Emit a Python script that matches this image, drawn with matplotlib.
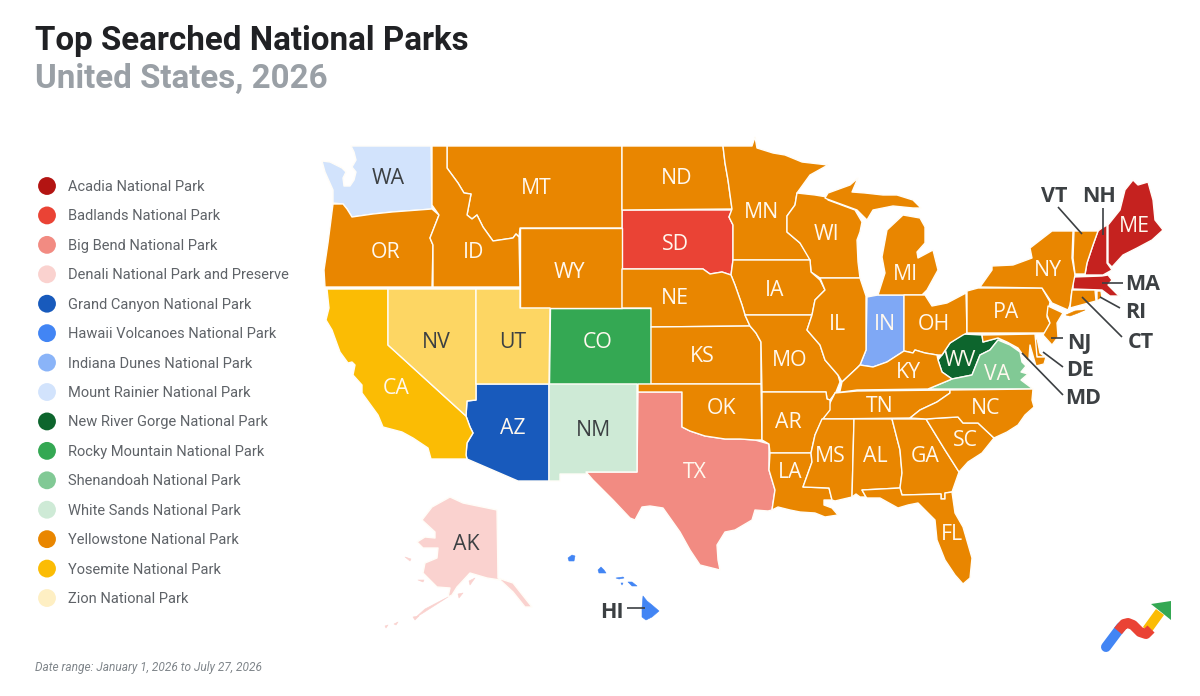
import matplotlib
matplotlib.use('Agg')
import matplotlib.pyplot as plt
from matplotlib.patches import Polygon

plt.rcParams['font.family'] = ['Roboto', 'Open Sans', 'DejaVu Sans']

# legend
parks = ['Acadia National Park', 'Badlands National Park', 'Big Bend National Park',
         'Denali National Park and Preserve', 'Grand Canyon National Park',
         'Hawaii Volcanoes National Park', 'Indiana Dunes National Park',
         'Mount Rainier National Park', 'New River Gorge National Park',
         'Rocky Mountain National Park', 'Shenandoah National Park',
         'White Sands National Park', 'Yellowstone National Park',
         'Yosemite National Park', 'Zion National Park']
legend_colors = ['#B31412', '#EA4335', '#F28B82', '#FAD2CF', '#185ABC', '#4285F4', '#8AB4F8',
                 '#D2E3FC', '#0D652D', '#34A853', '#81C995', '#CEEAD6', '#E98600', '#FBBC04', '#FEEFC3']
map_colors = ['#C5221F', '#EA4335', '#F28B82', '#FAD2CF', '#185ABC', '#4285F4', '#7FA8F5',
              '#D2E3FC', '#0D652D', '#34A853', '#81C995', '#CEEAD6', '#E98600', '#FBBC04', '#FDD663']

# which park each state searched for most
acadia = ['ME', 'NH', 'MA']
badlands = ['SD']
big_bend = ['TX']
denali = ['AK']
grand_canyon = ['AZ']
hawaii = ['HI']
indiana = ['IN']
rainier = ['WA']
new_river = ['WV']
rocky = ['CO']
shenandoah = ['VA']
white_sands = ['NM']
yellowstone = ['MT', 'OR', 'ID', 'WY', 'ND', 'MN', 'WI', 'MI', 'IA', 'NE', 'KS', 'OK', 'MO', 'IL', 'OH',
               'KY', 'TN', 'AR', 'LA', 'MS', 'AL', 'GA', 'SC', 'NC', 'FL', 'PA', 'NY', 'VT', 'CT', 'RI',
               'NJ', 'DE', 'MD']
yosemite = ['CA']
zion = ['NV', 'UT']
park_states = [acadia, badlands, big_bend, denali, grand_canyon, hawaii, indiana, rainier, new_river,
               rocky, shenandoah, white_sands, yellowstone, yosemite, zion]

# state outlines, in image pixels
WA = [(351,146),(431,146),(432,209),(392,212),(373,214),(352,217),(347,209),(343,204),(333,203),(333,190),
      (325,172),(322,161),(330,162),(342,168),(346,172),(343,178),(344,186),(350,186),(354,180),(356,172),
      (352,167),(356,160),(354,152)]
OR = [(333,204),(343,204),(347,209),(352,217),(373,214),(392,212),(432,209),(439,215),(430,238),(433,245),
      (432,287),(325,287),(324,270),(328,243)]
ID = [(432,146),(447,146),(447,168),(458,183),(464,193),(471,194),(467,215),(472,219),(477,215),(483,227),
      (493,241),(513,238),(516,234),(519,237),(520,287),(433,287),(433,245),(430,238),(439,215),(432,205)]
MT = [(447,146),(622,146),(622,228),(520,228),(519,237),(516,234),(513,238),(493,241),(483,227),(477,215),
      (472,219),(467,215),(471,194),(464,193),(458,183),(447,168)]
WY = [(520,228),(622,228),(622,308),(520,308)]
ND = [(622,146),(723,146),(725,163),(728,180),(732,209),(622,210)]
SD = [(622,210),(732,210),(729,217),(733,225),(733,260),(731,275),(722,272),(710,274),(703,269),(622,269)]
NE = [(622,269),(703,269),(710,274),(722,272),(731,275),(735,285),(742,305),(745,315),(750,326),(651,327),
      (651,308),(622,308)]
KS = [(651,327),(750,326),(756,333),(761,342),(761,384),(651,384)]
CO = [(550,308),(651,308),(651,384),(549,384)]
UT = [(476,289),(520,289),(520,308),(550,308),(549,384),(476,384)]
NV = [(388,289),(476,289),(476,400),(467,401),(466,416),(388,345)]
CA = [(327,289),(388,289),(388,345),(466,416),(470,427),(473,433),(467,443),(466,455),(467,459),(431,459),
      (428,448),(413,438),(402,432),(383,427),(378,415),(362,393),(362,385),(353,375),(355,365),(352,362),
      (348,363),(340,352),(332,330),(326,320),(329,308)]
AZ = [(476,384),(549,384),(549,481),(518,481),(467,459),(466,455),(467,443),(473,433),(470,427),(466,416),
      (467,401),(476,400)]
NM = [(549,384),(637,384),(637,472),(586,472),(587,474),(560,474),(560,481),(549,481)]
TX = [(638,392),(682,392),(682,427),(690,431),(705,436),(725,439),(740,439),(755,440),(769,444),(769,470),
      (775,490),(772,510),(768,511),(755,510),(752,520),(735,530),(725,532),(717,545),(718,560),(720,570),
      (700,565),(690,550),(680,532),(663,508),(650,506),(642,507),(635,520),(630,518),(613,500),(593,480),
      (586,472),(637,472)]
OK = [(638,384),(761,384),(762,440),(755,440),(740,439),(725,439),(705,436),(690,431),(682,427),(682,392),
      (638,392)]
MN = [(723,146),(752,146),(755,137),(757,148),(773,153),(785,155),(802,162),(828,165),(810,175),(797,193),
      (795,205),(787,216),(787,232),(800,243),(809,257),(810,260),(733,260),(733,225),(729,217),(732,209),
      (728,180),(725,163)]
IA = [(733,260),(810,260),(811,272),(820,280),(825,290),(815,300),(812,315),(745,315),(742,305),(735,285),
      (731,275)]
MO = [(745,315),(812,315),(807,330),(820,345),(825,360),(838,375),(840,382),(836,392),(830,400),(827,399),
      (826,392),(762,392),(761,342),(756,333),(750,326)]
AR = [(762,392),(826,392),(827,399),(830,400),(830,410),(822,420),(815,435),(811,453),(770,453),(769,444),
      (762,440)]
LA = [(770,453),(811,453),(812,462),(803,487),(829,488),(832,500),(824,500),(824,505),(832,508),(838,515),
      (825,517),(815,513),(800,512),(790,510),(778,507),(772,510),(775,490),(769,470)]
MS = [(822,419),(854,419),(852,497),(835,501),(832,500),(829,488),(803,487),(812,462),(811,453),(815,435)]
AL = [(854,419),(892,419),(900,450),(902,473),(900,488),(862,490),(866,497),(860,497),(856,494),(852,497)]
GA = [(892,419),(926,419),(945,450),(959,472),(952,492),(945,493),(945,499),(941,499),(941,494),(902,495),
      (900,488),(902,473),(900,450)]
FL = [(862,490),(900,488),(902,495),(941,494),(941,499),(945,499),(945,493),(952,492),(955,513),(963,527),
      (972,558),(970,578),(963,584),(955,575),(945,560),(937,540),(935,520),(918,503),(908,505),(898,508),
      (880,498),(867,498),(866,497)]
SC = [(926,419),(940,418),(958,417),(963,423),(978,423),(994,438),(982,453),(968,462),(959,472),(945,450)]
NC = [(910,418),(920,410),(937,402),(950,393),(950,390),(1033,389),(1032,400),(1034,407),(1025,415),(1018,425),
      (1007,432),(994,438),(978,423),(963,423),(958,417),(940,418),(926,419)]
TN = [(835,393),(857,391),(950,390),(950,393),(937,402),(920,410),(910,418),(823,419),(830,403)]
KY = [(840,391),(842,382),(857,368),(860,365),(873,367),(887,362),(904,351),(913,353),(915,350),(925,353),
      (937,355),(938,360),(942,372),(952,379),(928,389),(857,390),(835,393)]
IL = [(820,278),(860,278),(866,296),(866,350),(860,365),(857,368),(842,382),(838,375),(825,360),(820,345),
      (807,330),(812,315),(815,300),(825,290)]
WI = [(797,193),(815,195),(827,197),(828,200),(855,210),(862,222),(860,232),(857,240),(858,262),(860,278),
      (820,278),(811,272),(810,260),(800,243),(787,232),(787,216),(795,205)]
MI_UP = [(825,198),(828,193),(850,185),(858,178),(852,192),(865,193),(883,195),(897,195),(913,200),(921,208),
         (913,208),(893,206),(873,210),(867,220),(857,210),(827,199)]
MI_LP = [(903,215),(920,218),(925,227),(925,243),(917,252),(918,258),(933,250),(938,270),(927,290),(922,295),
         (878,295),(885,273),(882,257),(887,230)]
IN = [(867,297),(878,295),(904,295),(904,351),(887,362),(873,367),(860,365),(866,350)]
OH = [(904,295),(925,295),(932,306),(947,303),(966,293),(967,333),(963,335),(950,343),(942,355),(937,355),
      (925,353),(915,350),(913,353),(904,351)]
PA = [(967,291),(978,288),(1042,288),(1050,302),(1047,317),(1052,327),(1045,333),(967,333)]
NY = [(980,287),(992,270),(992,266),(1013,265),(1032,258),(1030,248),(1052,231),(1073,231),(1072,258),(1075,275),
      (1072,290),(1070,305),(1068,310),(1052,303),(1042,288)]
LONG_ISLAND = [(1066,315),(1075,311),(1085,310),(1078,313),(1070,316)]
VT = [(1074,231),(1098,231),(1093,245),(1087,263),(1085,274),(1075,274),(1073,258)]
NH = [(1098,231),(1102,228),(1107,225),(1107,263),(1112,270),(1103,275),(1085,275),(1087,263),(1093,245)]
ME = [(1108,225),(1120,210),(1125,190),(1133,180),(1138,185),(1148,182),(1153,200),(1155,220),(1163,230),(1152,240),
      (1137,248),(1123,255),(1112,267),(1108,263)]
MA = [(1073,277),(1102,276),(1108,275),(1112,280),(1108,285),(1117,294),(1120,296),(1110,296),(1102,290),(1073,289)]
CT = [(1072,290),(1095,290),(1096,301),(1070,308)]
RI = [(1097,291),(1101,291),(1102,298),(1097,301)]
NJ = [(1048,306),(1063,313),(1057,323),(1058,337),(1052,345),(1043,335),(1050,323),(1047,315)]
DE = [(1033,342),(1037,338),(1040,353),(1045,357),(1037,357)]
MD = [(982,335),(1035,334),(1037,357),(1046,357),(1044,364),(1036,366),(1030,345),(1029,358),(1028,362),(1023,355),
      (1018,348),(1007,342),(998,338),(983,342)]
WV = [(938,360),(942,355),(950,343),(963,334),(982,335),(983,342),(998,338),(1007,342),(998,340),(990,350),
      (980,355),(972,375),(952,379),(942,372)]
VA = [(928,389),(952,379),(972,375),(980,355),(990,350),(998,340),(1010,345),(1020,352),(1022,362),(1026,366),
      (1021,372),(1028,374),(1021,380),(1033,389)]
AK = [(450,497),(463,503),(497,510),(498,578),(513,583),(532,607),(525,607),(513,592),(500,580),(487,578),
      (470,573),(457,587),(452,595),(448,597),(450,588),(437,587),(423,573),(425,563),(437,558),(438,548),
      (423,548),(417,542),(425,537),(435,538),(435,532),(422,520),(432,507)]
AK_TAIL = [(448,597),(423,613),(415,618),(425,609)]
AK_ISLE1 = [(405,557),(411,559),(410,561)]
AK_ISLE2 = [(418,580),(424,580),(423,582)]
AK_ISLE3 = [(469,581),(475,578),(470,585)]
AK_ISLE4 = [(458,594),(463,593),(459,598)]
AK_ISLE5 = [(413,617),(419,616),(415,620)]
AK_ISLE6 = [(385,626),(388,625),(386,628)]
AK_ISLE7 = [(394,624),(398,622),(396,625)]
HI_KAUAI = [(568,558),(572,555),(575,556),(574,561),(569,561)]
HI_OAHU = [(598,570),(601,567),(604,570),(606,573),(603,573),(599,573)]
HI_MOLOKAI = [(616,578),(623,577),(624,578),(619,579)]
HI_LANAI = [(621,583),(623,583),(622,585)]
HI_MAUI = [(628,582),(632,582),(637,586),(632,586)]
HI_BIG = [(643,596),(647,601),(652,605),(659,611),(652,617),(646,620),(642,617),(642,608)]

shapes = {'WA': [WA], 'OR': [OR], 'ID': [ID], 'MT': [MT], 'WY': [WY], 'ND': [ND], 'SD': [SD], 'NE': [NE],
          'KS': [KS], 'CO': [CO], 'UT': [UT], 'NV': [NV], 'CA': [CA], 'AZ': [AZ], 'NM': [NM], 'TX': [TX],
          'OK': [OK], 'MN': [MN], 'IA': [IA], 'MO': [MO], 'AR': [AR], 'LA': [LA], 'MS': [MS], 'AL': [AL],
          'GA': [GA], 'FL': [FL], 'SC': [SC], 'NC': [NC], 'TN': [TN], 'KY': [KY], 'IL': [IL], 'WI': [WI],
          'MI': [MI_UP, MI_LP], 'IN': [IN], 'OH': [OH], 'PA': [PA], 'NY': [NY, LONG_ISLAND], 'VT': [VT],
          'NH': [NH], 'ME': [ME], 'MA': [MA], 'CT': [CT], 'RI': [RI], 'NJ': [NJ], 'DE': [DE], 'MD': [MD],
          'WV': [WV], 'VA': [VA],
          'AK': [AK, AK_TAIL, AK_ISLE1, AK_ISLE2, AK_ISLE3, AK_ISLE4, AK_ISLE5, AK_ISLE6, AK_ISLE7],
          'HI': [HI_KAUAI, HI_OAHU, HI_MOLOKAI, HI_LANAI, HI_MAUI, HI_BIG]}
# too small for a white edge
no_edge = [LONG_ISLAND, AK_TAIL, AK_ISLE1, AK_ISLE2, AK_ISLE3, AK_ISLE4, AK_ISLE5, AK_ISLE6, AK_ISLE7,
           HI_KAUAI, HI_OAHU, HI_MOLOKAI, HI_LANAI, HI_MAUI, HI_BIG]

# labels on the states
light_labels = [('MT',536,187),('OR',386,252),('ID',474,252),('WY',570,272),('ND',677,178),('SD',675,243),
                ('MN',761,211),('WI',826,234),('MI',905,273),('IA',775,289),('NE',675,298),('CO',598,342),
                ('CA',396,388),('AZ',513,428),('TX',695,472),('KS',702,355),('OK',722,408),('MO',790,359),
                ('IL',837,324),('IN',885,324),('OH',934,324),('KY',908,372),('TN',880,405),('AR',788,421),
                ('LA',790,471),('MS',830,455),('AL',875,456),('GA',925,456),('SC',965,440),('NC',986,408),
                ('FL',952,534),('VA',997,373),('WV',960,360),('PA',1006,311),('NY',1048,270),('ME',1134,225)]
dark_labels = [('WA',388,178),('NV',436,342),('UT',513,342),('NM',594,429),('AK',466,543)]
outer_labels = [('HI',612,612),('VT',1054,195),('NH',1099,195),('MA',1143,284),('RI',1136,312),
                ('CT',1141,341),('NJ',1079,342),('DE',1080,369),('MD',1083,397)]
leaders = [((1058,207),(1082,234)), ((1103,208),(1103,235)), ((1123,283),(1102,283)), ((1120,308),(1100,297)),
           ((1122,337),(1082,297)), ((1063,338),(1051,338)), ((1063,367),(1043,352)), ((1063,395),(1022,353)),
           ((627,608),(645,608))]
label_font = ['Open Sans', 'DejaVu Sans']

fig = plt.figure(figsize=(12, 6.96), dpi=100)
ax = fig.add_axes([0, 0, 1, 1])
ax.set_xlim(0, 1200)
ax.set_ylim(696, 0)
ax.axis('off')

for color, states in zip(map_colors, park_states):
    for st in states:
        for pts in shapes[st]:
            small = any(pts is s for s in no_edge)
            ax.add_patch(Polygon(pts, closed=True, facecolor=color, edgecolor=color if small else '#FFFDF8',
                                 lw=0.4 if small else 1.0, joinstyle='round'))

for name, x, y in light_labels:
    ax.text(x, y + 1, name, color='#FFF8EE', fontsize=15.3, ha='center', va='center', family=label_font)
for name, x, y in dark_labels:
    ax.text(x, y + 1, name, color='#3C4043', fontsize=15.3, ha='center', va='center', family=label_font)
for name, x, y in outer_labels:
    ax.text(x, y + 1, name, color='#3C4043', fontsize=15.5, ha='center', va='center', family=label_font,
            fontweight='bold')
for a, b in leaders:
    ax.plot([a[0], b[0]], [a[1], b[1]], color='#3C4043', lw=1.2, solid_capstyle='butt')

# titles
ax.text(35, 41, 'Top Searched National Parks', color='#202124', fontsize=23.85, fontweight='bold', va='center')
ax.text(35, 79, 'United States, 2026', color='#9AA0A6', fontsize=23.85, fontweight='bold', va='center')

# legend
legend_y = [186 + 29.43 * i for i in range(len(parks))]
ax.scatter([47] * len(parks), legend_y, s=165, c=legend_colors, linewidths=0)
for name, y in zip(parks, legend_y):
    ax.text(68, y + 1, name, color='#5F6368', fontsize=10.5, va='center')

ax.text(35, 667, 'Date range: January 1, 2026 to July 27, 2026', color='#80868B', fontsize=8.55,
        style='italic', va='center')

# logo
ax.plot([1106, 1121], [647, 627], color='#4285F4', lw=7.2, solid_capstyle='round')
ax.plot([1147, 1160], [630, 612], color='#FBBC04', lw=7.2, solid_capstyle='butt')
ax.plot([1118, 1124, 1128, 1133, 1140, 1146, 1151], [631, 624, 623, 625, 632, 634, 629], color='#EA4335', lw=7.2,
        solid_capstyle='butt', solid_joinstyle='round')
ax.add_patch(Polygon([(1151,604),(1171,601),(1171,620)], closed=True, facecolor='#34A853', edgecolor='none'))

fig.savefig('out.png', dpi=100)
